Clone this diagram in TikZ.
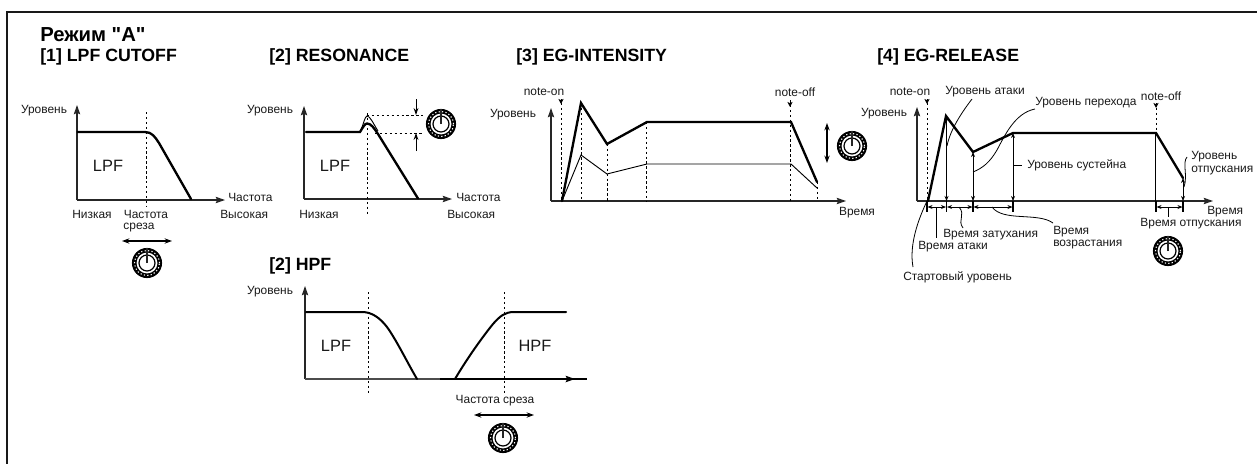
\documentclass[tikz,border=0pt]{standalone}
\usepackage{fontspec}
\setmainfont{Liberation Sans}
\newfontfamily\rawsans{Liberation Sans}
\usetikzlibrary{arrows.meta}
\tikzset{
  x=0.75pt,y=-0.75pt,
  lab/.style={font=\fontsize{8.95pt}{10pt}\selectfont,inner sep=0pt,text=black!90},
  big/.style={font=\fontsize{12.3pt}{13pt}\selectfont,inner sep=0pt,text=black!90},
  ttl/.style={font=\fontsize{13.3pt}{15pt}\selectfont\bfseries,inner sep=0pt,anchor=west},
  axis/.style={line width=0.95pt,draw=black!85,-{Stealth[length=7pt,width=4.8pt,inset=1.2pt]}},
  curve/.style={line width=1.75pt,line join=miter,line cap=round},
  thinc/.style={line width=0.7pt},
  guide/.style={line width=0.65pt,dash pattern=on 1.8pt off 1.9pt},
  dim/.style={line width=0.65pt,{Stealth[length=3.8pt,width=3pt]}-{Stealth[length=3.8pt,width=3pt]}},
  dimarr/.style={line width=0.7pt,-{Stealth[length=5.2pt,width=3.6pt]}},
  wide/.style={line width=0.8pt,{Stealth[length=5.6pt,width=4pt]}-{Stealth[length=5.6pt,width=4pt]}},
  lead/.style={line width=0.6pt},
  tick/.style={line width=0.8pt},
  note/.style={line width=0.7pt,-{Stealth[length=3.8pt,width=3.8pt,inset=1pt]}},
  knob/.pic={
    \fill[black] (0,0) circle (11.3pt);
    \draw[white,line width=0.8pt,dash pattern=on 0.9pt off 1.7pt] (0,0) circle (9.4pt);
    \fill[white] (0,0) circle (7.8pt);
    \draw[black,line width=0.9pt] (0,0) circle (6pt);
    \draw[black!85,line width=1.8pt] (0,0) -- (0,11.6pt);
  }
}
\begin{document}
\begin{tikzpicture}
\useasboundingbox (0,0) rectangle (1257,464);
% frame
\draw[line width=1.3pt,black!90] (7,464) -- (7,12) -- (1257,12);
% titles
\node[ttl,font=\fontsize{15.2pt}{17pt}\rawsans\bfseries] (mode) at (40,35) {Режим "А"};
\node[ttl] (t1) at (40,57) {[1] LPF CUTOFF};
\node[ttl] (t2) at (269,57) {[2] RESONANCE};
\node[ttl] (t3) at (516,57) {[3] EG-INTENSITY};
\node[ttl] (t4) at (877,57) {[4] EG-RELEASE};
\node[ttl] (t5) at (269,266) {[2] HPF};

% ---- [1] LPF cutoff
\draw[axis] (77,200) -- (77,105);
\draw[axis] (77,200) -- (225,200);
\draw[guide] (146,112) -- (146,206);
\draw[curve] (77.5,132) -- (145,132) .. controls (152,132) and (155,137) .. (159,143) -- (191,199);
\node[lab] (a1) at (44,111) {Уровень};
\node[big] (b1) at (108,166) {LPF};
\node[lab] (c1) at (92,214) {Низкая};
\node[lab] (d1) at (146,214) {Частота};
\node[lab] (e1) at (139,228) {среза};
\node[lab,anchor=west] (f1) at (228,197) {Частота};
\node[lab,anchor=west] (g1) at (220,214) {Высокая};
\coordinate (w1a) at (122,241);
\coordinate (w1b) at (172,241);
\draw[wide] (w1a) -- (w1b);
\pic at (147,263) {knob};

% ---- [2] resonance
\draw[axis] (304,199) -- (304,106);
\draw[axis] (304,199) -- (452,199);
\draw[guide] (367,113) -- (367,214);
\draw[guide] (367,115) -- (423,115);
\draw[guide] (375,133) -- (423,133);
\draw[thinc] (360,132) .. controls (363,126) and (365,116) .. (367,116) .. controls (370,116) and (373,123) .. (378,131);
\draw[curve] (306,132) -- (360,132) .. controls (363,127) and (365,123.5) .. (367,123.5) .. controls (371,123.5) and (374,128) .. (378,134) -- (418,198.5);
\coordinate (r1) at (416,99);
\coordinate (r2) at (416,115);
\coordinate (r3) at (416,151);
\coordinate (r4) at (416,133);
\draw[dimarr] (r1) -- (r2);
\draw[dimarr] (r3) -- (r4);
\pic at (441,124) {knob};
\node[lab] (a2) at (270,111) {Уровень};
\node[big] (b2) at (335,166) {LPF};
\node[lab] (c2) at (319,214) {Низкая};
\node[lab,anchor=west] (f2) at (456,197) {Частота};
\node[lab,anchor=west] (g2) at (447,214) {Высокая};

% ---- [2] HPF
\draw[axis] (305,379) -- (305,286);
\draw[line width=0.95pt,black!70] (305,379) -- (440,379);
\draw[line width=1.1pt,-{Stealth[length=7pt,width=4.8pt,inset=1.2pt]}] (440,379) -- (575,379);
\draw[line width=1.1pt] (570,379) -- (587,379);
\draw[guide] (368,292) -- (368,394);
\draw[guide] (504,292) -- (504,394);
\draw[curve,line width=1.5pt] (306,312) -- (362,312) .. controls (372,312) and (380,318) .. (387,327) .. controls (397,341) and (407,362) .. (417,379);
\draw[curve,line width=1.5pt] (455,379) .. controls (465,362) and (480,340) .. (493,324) .. controls (500,316) and (505,312) .. (514,312) -- (566,312);
\node[lab] (a3) at (270,292) {Уровень};
\node[big] (b3) at (336,346) {LPF};
\node[big] (h3) at (535,346) {HPF};
\node[lab] (d3) at (495,401) {Частота среза};
\coordinate (w3a) at (474,415);
\coordinate (w3b) at (534,415);
\draw[wide] (w3a) -- (w3b);
\pic at (503,438) {knob};

% ---- [3] EG intensity
\draw[axis] (551,201) -- (551,108);
\draw[axis] (551,201) -- (846,201);
\draw[guide] (561,103) -- (561,201);
\draw[guide] (581,103) -- (581,201);
\draw[guide] (607,144) -- (607,201);
\draw[guide] (646.5,122) -- (646.5,201);
\draw[guide] (790,100) -- (790,201);
\draw[guide] (817,182) -- (817,201);
\draw[note] (561,99) -- (561,104);
\draw[note] (790,102) -- (790,107);
\draw[thinc] (562,201) -- (581,155) -- (607,174) -- (647,164) -- (791,164) -- (817,188);
\draw[curve] (562,201) -- (581,103) -- (607,144) -- (647,122) -- (791,122) -- (817,182);
\node[lab] (on3) at (544,92) {note-on};
\node[lab] (off3) at (795,92) {note-off};
\node[lab] (a4) at (513,115) {Уровень};
\node[lab] (v4) at (857,213) {Время};
\coordinate (w4a) at (827,123);
\coordinate (w4b) at (827,163);
\draw[wide] (w4a) -- (w4b);
\pic at (852,146) {knob};

% ---- [4] EG release
\draw[axis] (917,201) -- (917,107);
\draw[axis] (917,201) -- (1213,201);
\draw[guide] (927,103) -- (927,201);
\draw[guide] (1156,108) -- (1156,133);
\draw[note] (927,99) -- (927,104);
\draw[note] (1156,103) -- (1156,108);
\draw[curve] (928,201) -- (946,116) -- (973,152) -- (1013,133) -- (1156,133) -- (1183,178);
\coordinate (s0) at (946.5,201);
\coordinate (s1) at (946.5,116);
\coordinate (s2) at (973,201);
\coordinate (s3) at (973,152);
\coordinate (s4) at (1013,201);
\coordinate (s5) at (1013,133);
\coordinate (s6) at (1183,201);
\coordinate (s7) at (1183,178);
\draw[dim] (s0) -- (s1);
\draw[dim] (s2) -- (s3);
\draw[dim] (s4) -- (s5);
\draw[dim] (s6) -- (s7);
\draw[line width=0.75pt] (1155.5,133) -- (1155.5,201);
% time ticks
\draw[tick] (927,201) -- (927,212);
\draw[tick] (946.5,201) -- (946.5,212);
\draw[tick] (973,201) -- (973,212);
\draw[tick] (1013,201) -- (1013,212);
\draw[tick] (1156,201) -- (1156,212);
\draw[tick] (1183,201) -- (1183,212);
\draw[dim] (927.5,207) -- (946,207);
\draw[dim] (947,207) -- (972.5,207);
\draw[dim] (973.5,207) -- (1012.5,207);
\draw[dim] (1156.5,207) -- (1182.5,207);
\node[lab] (on5) at (910,92) {note-on};
\node[lab] (off5) at (1161,96) {note-off};
\node[lab] (a5) at (884,114) {Уровень};
\node[lab] (la) at (985,92) {Уровень атаки};
\node[lab,anchor=west] (lp) at (1035,103) {Уровень перехода};
\node[lab,anchor=west] (ls) at (1027,165) {Уровень сустейна};
\node[lab,anchor=west] (lr1) at (1191,157) {Уровень};
\node[lab,anchor=west] (lr2) at (1191,171) {отпускания};
\node[lab,anchor=west] (v5) at (1207,212) {Время};
\node[lab] (tr) at (1191,224) {Время отпускания};
\node[lab,anchor=west] (td) at (943,235) {Время затухания};
\node[lab,anchor=west] (ta) at (918,247) {Время атаки};
\node[lab,anchor=west] (tu1) at (1053,232) {Время};
\node[lab,anchor=west] (tu2) at (1053,245) {возрастания};
\node[lab,anchor=west] (st) at (903,277) {Стартовый уровень};
\draw[lead] (972,99) .. controls (962,112) and (950,130) .. (947,146);
\draw[lead] (1035,109) .. controls (1015,113) and (1005,135) .. (997,150) .. controls (990,162) and (983,168) .. (973,172);
\draw[lead] (1013,165) -- (1022,165);
\draw[lead] (1187,157) .. controls (1182,163) and (1188,175) .. (1184,187);
\draw[lead] (927,201) .. controls (918,220) and (909,245) .. (913,267);
\draw[lead] (936,207) -- (936,238);
\draw[lead] (959,207) .. controls (966,215) and (957,220) .. (963,228);
\draw[lead] (992,207) .. controls (1003,222) and (1038,212) .. (1053,223);
\draw[lead] (1168,207) -- (1168,217);
\pic at (1168,251) {knob};
\end{tikzpicture}
\end{document}
